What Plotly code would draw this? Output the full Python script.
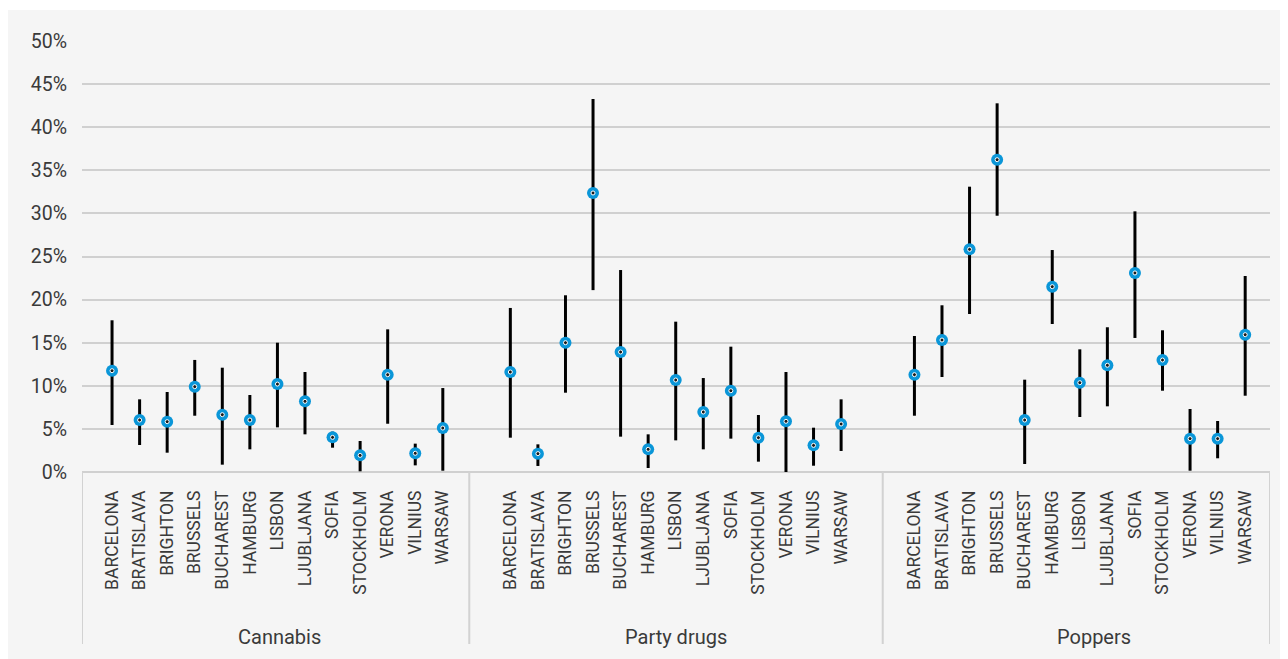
import plotly.graph_objects as go

cities = ["BARCELONA", "BRATISLAVA", "BRIGHTON", "BRUSSELS", "BUCHAREST", "HAMBURG",
          "LISBON", "LJUBLJANA", "SOFIA", "STOCKHOLM", "VERONA", "VILNIUS", "WARSAW"]
groups = ["Cannabis", "Party drugs", "Poppers"]

cannabis_est = [11.75, 6.03, 5.84, 9.9, 6.65, 6.03, 10.2, 8.2, 4.02, 1.93, 11.29, 2.17, 5.1]
cannabis_low = [5.45, 3.13, 2.24, 6.53, 0.85, 2.63, 5.18, 4.37, 2.82, 0.08, 5.6, 0.77, 0.15]
cannabis_high = [17.6, 8.43, 9.28, 13.0, 12.1, 8.93, 15.0, 11.6, 4.68, 3.6, 16.55, 3.29, 9.74]

party_est = [11.6, 2.13, 15.0, 32.37, 13.92, 2.63, 10.67, 6.96, 9.43, 3.98, 5.88, 3.09, 5.57]
party_low = [3.98, 0.7, 9.2, 21.1, 4.1, 0.46, 3.67, 2.63, 3.87, 1.2, 0.0, 0.73, 2.44]
party_high = [19.03, 3.21, 20.5, 43.27, 23.43, 4.37, 17.44, 10.9, 14.54, 6.61, 11.6, 5.14, 8.43]

poppers_est = [11.29, 15.31, 25.83, 36.23, 6.03, 21.5, 10.36, 12.38, 23.09, 12.99, 3.87, 3.87, 15.93]
poppers_low = [6.53, 11.02, 18.33, 29.73, 0.93, 17.17, 6.38, 7.62, 15.55, 9.43, 0.15, 1.59, 8.85]
poppers_high = [15.78, 19.34, 33.1, 42.77, 10.71, 25.75, 14.23, 16.79, 30.24, 16.44, 7.31, 5.92, 22.74]

y_ticks = [0, 5, 10, 15, 20, 25, 30, 35, 40, 45, 50]
y_labels = [f"{v}%" for v in y_ticks]

# layout constants (axis units)
group_start = [1.09, 15.54, 30.2]
separators = [0, 14.05, 29.05, 43.1]
group_label_x = [7.15, 21.55, 36.7]
x_max = 43.1

series = [(cannabis_est, cannabis_low, cannabis_high),
          (party_est, party_low, party_high),
          (poppers_est, poppers_low, poppers_high)]

BLUE = "#0a96d8"
FONT = "Roboto"
TXT = "#3a3a3a"

fig = go.Figure()
tickvals, ticktext = [], []
for g, (est, lo, hi) in enumerate(series):
    xs = [group_start[g] + i for i in range(len(cities))]
    tickvals += xs
    ticktext += cities
    fig.add_trace(go.Scatter(
        x=xs, y=est, mode="markers", name=groups[g], showlegend=False,
        marker=dict(color=BLUE, size=12, line=dict(width=0)),
        error_y=dict(type="data", symmetric=False,
                     array=[h - e for h, e in zip(hi, est)],
                     arrayminus=[e - l for e, l in zip(est, lo)],
                     color="black", thickness=3, width=0),
    ))
    fig.add_trace(go.Scatter(
        x=xs, y=est, mode="markers", showlegend=False, hoverinfo="skip",
        marker=dict(color="#1a1a1a", size=4, line=dict(color="white", width=1)),
    ))

shapes = [dict(type="rect", xref="paper", yref="paper",
               x0=(7 - 82) / 1188, x1=(1290 - 82) / 1188,
               y0=(472 - 662) / 431, y1=(472 - 10) / 431,
               fillcolor="#f5f5f5", line=dict(width=0), layer="below")]
for s in separators:
    shapes.append(dict(type="line", xref="x", yref="paper", x0=s, x1=s,
                       y0=0, y1=(472 - 644) / 431,
                       line=dict(color="#d2d2d2", width=2)))

annotations = []
for g, name in enumerate(groups):
    annotations.append(dict(x=group_label_x[g], xref="x", y=0, yref="paper",
                            text=name, showarrow=False, yanchor="middle",
                            yshift=-165, font=dict(family=FONT, size=20, color=TXT)))

fig.update_layout(
    width=1280, height=651,
    margin=dict(l=74, r=18, t=33, b=187),
    paper_bgcolor="white", plot_bgcolor="rgba(0,0,0,0)",
    shapes=shapes, annotations=annotations,
    xaxis=dict(range=[0, x_max], tickmode="array", tickvals=tickvals, ticktext=ticktext,
               tickangle=-90, tickfont=dict(family=FONT, size=17.5, color=TXT),
               showgrid=False, zeroline=False, showline=False, ticks="",
               ticklabelstandoff=14),
    yaxis=dict(range=[0, 50], tickmode="array", tickvals=y_ticks, ticktext=y_labels,
               tickfont=dict(family=FONT, size=19.5, color=TXT),
               showgrid=True, gridcolor="#d0d0d0", gridwidth=1.5,
               zeroline=True, zerolinecolor="#d0d0d0", zerolinewidth=1.5,
               showline=False, ticks="", ticklabelstandoff=14),
)

fig.write_html("out.html")
